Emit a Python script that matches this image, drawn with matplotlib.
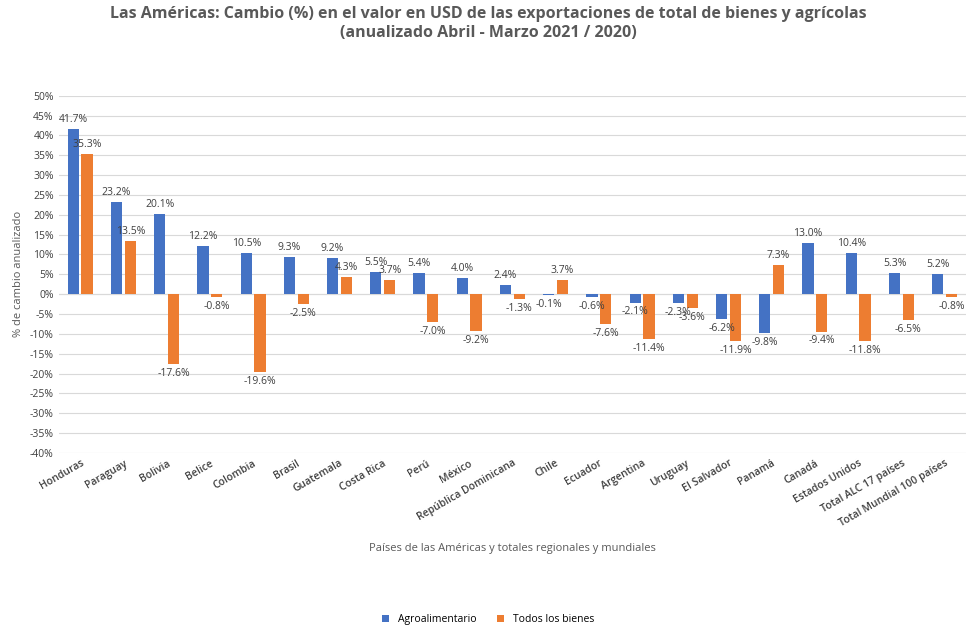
import matplotlib.pyplot as plt
import numpy as np

paises = ["Honduras", "Paraguay", "Bolivia", "Belice", "Colombia", "Brasil", "Guatemala",
          "Costa Rica", "Perú", "México", "República Dominicana", "Chile", "Ecuador",
          "Argentina", "Uruguay", "El Salvador", "Panamá", "Canadá", "Estados Unidos",
          "Total ALC 17 países", "Total Mundial 100 países"]
agro = [41.7, 23.2, 20.1, 12.2, 10.5, 9.3, 9.2, 5.5, 5.4, 4.0, 2.4, -0.1, -0.6,
        -2.1, -2.3, -6.2, -9.8, 13.0, 10.4, 5.3, 5.2]
todos = [35.3, 13.5, -17.6, -0.8, -19.6, -2.5, 4.3, 3.7, -7.0, -9.2, -1.3, 3.7, -7.6,
         -11.4, -3.6, -11.9, 7.3, -9.4, -11.8, -6.5, -0.8]

plt.rcParams['font.family'] = ['Open Sans', 'DejaVu Sans']
fig = plt.figure(figsize=(9.76, 6.38), dpi=100)
ax = fig.add_axes([0.06, 0.29, 0.93, 0.56])

x = np.arange(len(paises))
w = 0.26
blue, orange = '#4472C4', '#ED7D31'
b1 = ax.bar(x - 0.16, agro, w, color=blue, label='Agroalimentario', zorder=3)
b2 = ax.bar(x + 0.16, todos, w, color=orange, label='Todos los bienes', zorder=3)
for bars, vals in ((b1, agro), (b2, todos)):
    for b, v in zip(bars, vals):
        off = 1.0 if v >= 0 else -1.0
        ax.text(b.get_x() + b.get_width() / 2, v + off, f"{v:.1f}%", ha='center',
                va='bottom' if v >= 0 else 'top', fontsize=7.5, color='#404040')

ax.set_ylim(-40, 50)
ax.set_yticks(range(-40, 51, 5))
ax.set_yticklabels([f"{t}%" for t in range(-40, 51, 5)], fontsize=7.5, color='#404040')
ax.set_xlim(-0.5, len(paises) - 0.5)
ax.set_xticks(x)
ax.set_xticklabels(paises, rotation=30, ha='right', rotation_mode='anchor',
                   fontsize=7.5, color='#404040', fontweight='semibold')
ax.tick_params(length=0)
ax.grid(axis='y', color='#D9D9D9', linewidth=0.8, zorder=0)
ax.axhline(0, color='#D9D9D9', linewidth=0.8, zorder=2)
for s in ax.spines.values():
    s.set_visible(False)
ax.set_ylabel('% de cambio anualizado', fontsize=8, color='#595959')
ax.set_xlabel('Países de las Américas y totales regionales y mundiales', fontsize=8,
              color='#595959', labelpad=10)
fig.suptitle('Las Américas: Cambio (%) en el valor en USD de las exportaciones de total de bienes y agrícolas\n'
             '(anualizado Abril - Marzo 2021 / 2020)', fontsize=11.5, fontweight='bold',
             color='#595959', y=0.99)
fig.legend(loc='lower center', ncol=2, frameon=False, fontsize=7.5,
           bbox_to_anchor=(0.5, 0.005), handlelength=0.7, handleheight=0.7)
fig.savefig('out.png')
